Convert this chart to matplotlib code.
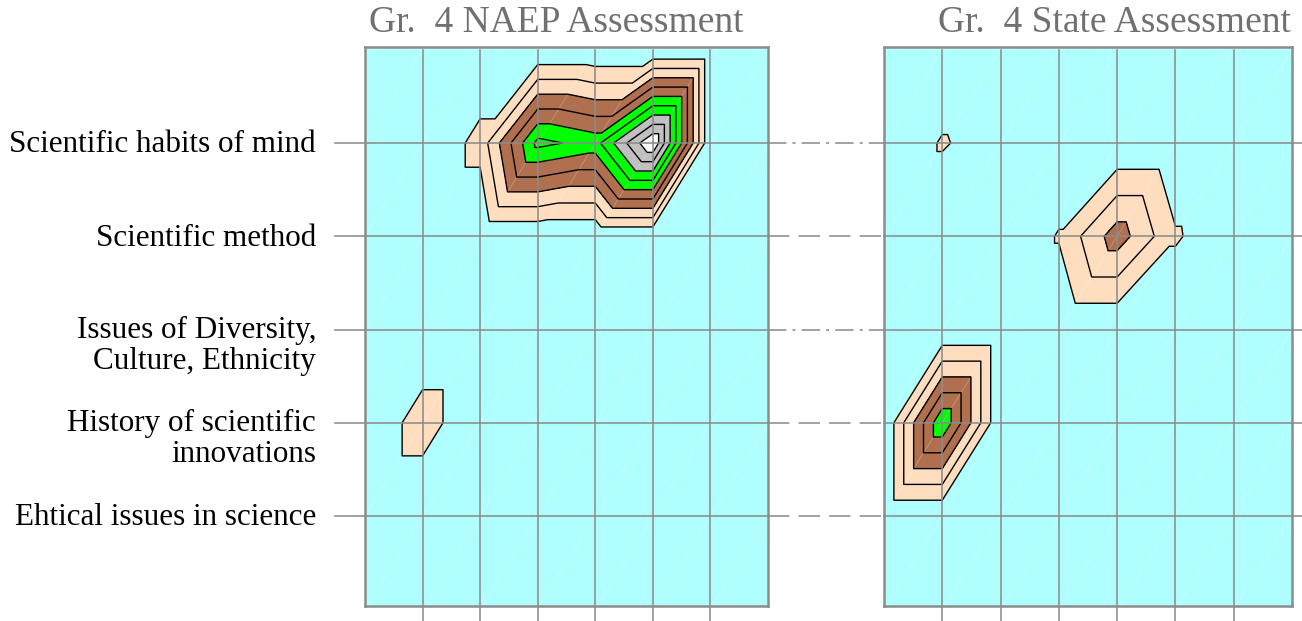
import matplotlib
matplotlib.use('Agg')
import matplotlib.pyplot as plt
import matplotlib.tri as mtri
import numpy as np
from matplotlib.transforms import blended_transform_factory

topics = ["Scientific habits of mind", "Scientific method",
          "Issues of Diversity,\nCulture, Ethnicity",
          "History of scientific\ninnovations", "Ehtical issues in science"]
titles = ["Gr.  4 NAEP Assessment", "Gr.  4 State Assessment"]

# values: one list per topic row, 6 columns each
naep_habits = [0.0, 1.35, 6.3, 5.6, 10.0, 0.0]
naep_method = [0.0, 0.0, 0.0, 0.0, 0.0, 0.0]
naep_diversity = [0.0, 0.0, 0.0, 0.0, 0.0, 0.0]
naep_history = [1.55, 0.0, 0.0, 0.0, 0.0, 0.0]
naep_ethics = [0.0, 0.0, 0.0, 0.0, 0.0, 0.0]

state_habits = [1.1, 0.4, 0.0, 0.0, 0.0, 0.0]
state_method = [0.0, 0.0, 1.08, 3.55, 1.12, 0.2]
state_diversity = [0.0, 0.0, 0.0, 0.0, 0.0, 0.0]
state_history = [5.9, 0.0, 0.0, 0.0, 0.0, 0.0]
state_ethics = [0.0, 0.0, 0.0, 0.0, 0.0, 0.0]

levels = [0, 1, 2, 3, 4, 5, 6, 7, 8, 9, 12]
band_colors = ['#B0FFFF', '#FFDEC0', '#FFDEC0', '#B07050', '#B07050',
               '#00FF00', '#00FF00', '#C0C0C0', '#C0C0C0', '#FFFFFF']

grid_color = '#888888'
plt.rcParams['font.family'] = ['Liberation Serif', 'DejaVu Serif']


def draw_map(ax, rows):
    # pad with a zero border row/column all round
    z = np.zeros((len(rows) + 2, len(rows[0]) + 2))
    z[1:-1, 1:-1] = np.array(rows)
    ny, nx = z.shape
    xx, yy = np.meshgrid(np.arange(nx), np.arange(ny))
    tris = []
    for j in range(ny - 1):
        for i in range(nx - 1):
            a = j * nx + i
            b = a + 1
            c = a + nx
            d = c + 1
            tris.append([a, b, c])
            tris.append([c, d, b])
    tri = mtri.Triangulation(xx.ravel(), yy.ravel(), tris)

    ax.set_facecolor(band_colors[0])
    ax.tricontourf(tri, z.ravel(), levels=levels, colors=band_colors, zorder=1)
    ax.triplot(tri, color='white', lw=0.5, alpha=0.3, zorder=1.5)
    ax.tricontour(tri, z.ravel(), levels=levels[1:-1], colors='black',
                  linewidths=1.0, zorder=2)

    ax.set_xlim(0, nx - 1)
    ax.set_ylim(ny - 1.035, -0.03)
    ax.set_xticks([])
    ax.set_yticks([])
    for s in ax.spines.values():
        s.set_color('#8c8c8c')
        s.set_linewidth(1.8)
        s.set_zorder(5)
    for i in range(1, nx - 1):
        ax.plot([i, i], [0, ny - 1 + 0.16], color=grid_color, lw=1.1,
                clip_on=False, zorder=3)
    return nx, ny


fig = plt.figure(figsize=(13.02, 6.21), dpi=100)
ax1 = fig.add_axes([365 / 1302, 15 / 621, 403 / 1302, 559 / 621])
ax2 = fig.add_axes([884 / 1302, 15 / 621, 408 / 1302, 559 / 621])

nx, ny = draw_map(ax1, [naep_habits, naep_method, naep_diversity,
                        naep_history, naep_ethics])
draw_map(ax2, [state_habits, state_method, state_diversity,
               state_history, state_ethics])

for j in range(1, ny - 1):
    ax1.plot([-0.52, nx - 1], [j, j], color=grid_color, lw=1.1,
             clip_on=False, zorder=3)
    ax2.plot([0, nx - 1 + 0.2], [j, j], color=grid_color, lw=1.1,
             clip_on=False, zorder=3)
    label = topics[j - 1]
    # first line of each label sits on its row
    extra = label.count('\n') * 0.325
    ax1.text(-0.85, j + 0.1 + extra, label, ha='right', va='baseline',
             fontsize=22.4, linespacing=1.1)

# connector lines between the two maps
trans = blended_transform_factory(fig.transFigure, ax1.transData)
dash_styles = [(0, (12, 4, 2, 4)), (0, (14, 6)), (0, (12, 4, 2, 4)),
               (0, (14, 6)), (0, (14, 6))]
for j in range(1, ny - 1):
    ax1.plot([768 / 1302, 884 / 1302], [j, j], transform=trans,
             color=grid_color, lw=1.1, ls=dash_styles[j - 1], clip_on=False)

fig.text(556 / 1302, 1 - 32 / 621, titles[0], ha='center', va='baseline',
         fontsize=27, color='#707070')
fig.text(1114 / 1302, 1 - 32 / 621, titles[1], ha='center', va='baseline',
         fontsize=27, color='#707070')

fig.savefig('out.png', dpi=100)
